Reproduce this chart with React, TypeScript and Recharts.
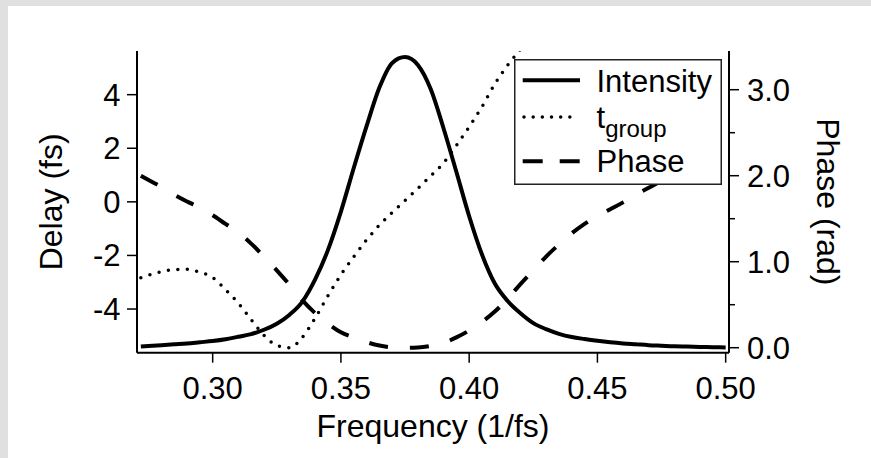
import { LineChart, Line, XAxis, YAxis, Legend } from 'recharts';

// frequency grid (1/fs)
const freq = [
  0.272, 0.275, 0.28, 0.285, 0.29, 0.295, 0.3, 0.305, 0.31, 0.315,
  0.32, 0.325, 0.33, 0.335, 0.34, 0.345, 0.35, 0.355, 0.36, 0.365,
  0.37, 0.375, 0.38, 0.385, 0.39, 0.395, 0.4, 0.405, 0.41, 0.415,
  0.42, 0.425, 0.43, 0.435, 0.44, 0.445, 0.45, 0.455, 0.46, 0.465,
  0.47, 0.475, 0.48, 0.485, 0.49, 0.495, 0.5,
];

// normalised spectral intensity
const intensity = [
  0.003, 0.005, 0.008, 0.011, 0.014, 0.018, 0.022, 0.028, 0.037, 0.046,
  0.061, 0.082, 0.113, 0.158, 0.235, 0.337, 0.468, 0.618, 0.762, 0.895,
  0.98, 1.0, 0.973, 0.89, 0.755, 0.605, 0.452, 0.32, 0.22, 0.16,
  0.118, 0.084, 0.063, 0.047, 0.036, 0.029, 0.023, 0.018, 0.014, 0.011,
  0.008, 0.006, 0.004, 0.003, 0.002, 0.001, 0.0,
];

// group delay (fs)
const tGroup = [
  -2.83, -2.74, -2.61, -2.53, -2.52, -2.63, -2.82, -3.28, -3.78, -4.4,
  -4.98, -5.36, -5.45, -5.05, -4.33, -3.5, -2.72, -2.05, -1.42, -0.87,
  -0.4, 0.05, 0.5, 0.97, 1.45, 2.1, 2.8, 3.55, 4.4, 5.1,
  5.7, 6.3, 6.8, null, null, null, null, null, null, null,
  null, null, null, null, null, null, null,
];

// spectral phase (rad)
const phase = [
  2.0, 1.95, 1.87, 1.78, 1.7, 1.63, 1.54, 1.44, 1.34, 1.21,
  1.06, 0.9, 0.73, 0.55, 0.4, 0.28, 0.18, 0.12, 0.065, 0.025,
  0.005, 0.0, 0.003, 0.02, 0.055, 0.12, 0.2, 0.3, 0.42, 0.57,
  0.74, 0.9, 1.06, 1.2, 1.33, 1.44, 1.53, 1.61, 1.69, 1.78,
  1.86, 1.94, 2.02, null, null, null, null,
];

const freqTicks = [0.3, 0.35, 0.4, 0.45, 0.5];
const delayTicks = [-4, -2, 0, 2, 4];
const phaseTicks = [0, 0.5, 1, 1.5, 2, 2.5, 3];

const data = freq.map((f, i) => ({
  f,
  intensity: intensity[i],
  tGroup: tGroup[i],
  phase: phase[i],
}));

const FONT = '"Liberation Sans", Arial, Helvetica, sans-serif';
const xDomain = [0.2705, 0.5013];

const PhaseTick = (props: any) => {
  const { x, y, payload } = props;
  const major = Number.isInteger(payload.value);
  const ax = x - 18;
  return (
    <g>
      <line x1={ax} y1={y} x2={ax + (major ? 10 : 6)} y2={y} stroke="#000" strokeWidth={1.5} />
      {major && (
        <text x={x} y={y} dy={11} fontSize={31} fill="#000" fontFamily={FONT}>
          {payload.value.toFixed(1)}
        </text>
      )}
    </g>
  );
};

const FreqLabel = (props: any) => {
  const vb = props.viewBox;
  return (
    <text x={vb.x + vb.width / 2} y={vb.y + 84} textAnchor="middle" fontSize={32} fill="#000" fontFamily={FONT}>
      Frequency (1/fs)
    </text>
  );
};

const DelayLabel = (props: any) => {
  const vb = props.viewBox;
  const x = vb.x + 45;
  const y = vb.y + vb.height / 2;
  return (
    <text x={x} y={y} transform={`rotate(-90 ${x} ${y})`} textAnchor="middle" fontSize={32} fill="#000" fontFamily={FONT}>
      Delay (fs)
    </text>
  );
};

const PhaseLabel = (props: any) => {
  const vb = props.viewBox;
  const x = vb.x + 88;
  const y = vb.y + vb.height / 2;
  return (
    <text x={x} y={y} transform={`rotate(90 ${x} ${y})`} textAnchor="middle" fontSize={32} fill="#000" fontFamily={FONT}>
      Phase (rad)
    </text>
  );
};

const LegendBox = () => (
  <svg width={208} height={126} style={{ display: 'block' }}>
    <rect x={0.75} y={0.75} width={206.5} height={124.5} fill="#fff" stroke="#222" strokeWidth={1.5} />
    <line x1={8.7} x2={66} y1={21.3} y2={21.3} stroke="#000" strokeWidth={4} />
    <line x1={10} x2={65} y1={58} y2={58} stroke="#000" strokeWidth={3.5} strokeDasharray="0 9.17" strokeLinecap="round" />
    <line x1={8.7} x2={66} y1={102.3} y2={102.3} stroke="#000" strokeWidth={4} strokeDasharray="20 17" />
    <g fontFamily={FONT} fill="#000" fontSize={31}>
      <text x={82.5} y={32.8}>Intensity</text>
      <text x={82.5} y={68.8}>
        t<tspan fontSize={24} dy={9.5}>group</tspan>
      </text>
      <text x={82.5} y={112.8}>Phase</text>
    </g>
  </svg>
);

export default function App() {
  return (
    <div style={{ position: 'fixed', inset: 0, background: '#e0e0e0' }}>
      <div style={{ position: 'absolute', left: 8, top: 6, width: 863, height: 452, background: '#fff', fontFamily: FONT }}>
        <LineChart width={863} height={452} data={data} margin={{ top: 45, right: 12, left: 9, bottom: 5 }}>
          <XAxis
            dataKey="f"
            type="number"
            domain={xDomain}
            allowDataOverflow
            ticks={freqTicks}
            interval={0}
            tickFormatter={(v: number) => v.toFixed(2)}
            height={100.3}
            tickSize={10}
            tickMargin={14}
            axisLine={{ stroke: '#000', strokeWidth: 2 }}
            tickLine={{ stroke: '#000', strokeWidth: 1.5 }}
            tick={{ fill: '#000', fontSize: 31 }}
            label={{ content: FreqLabel }}
          />
          <XAxis
            xAxisId="top"
            orientation="top"
            type="number"
            domain={xDomain}
            allowDataOverflow
            height={0}
            tick={false}
            tickLine={false}
            axisLine={{ stroke: '#000', strokeWidth: 2 }}
          />
          <YAxis
            yAxisId="left"
            orientation="left"
            width={120}
            domain={[-5.63, 5.63]}
            allowDataOverflow
            ticks={delayTicks}
            interval={0}
            tickSize={10}
            tickMargin={6.4}
            axisLine={{ stroke: '#000', strokeWidth: 2 }}
            tickLine={{ stroke: '#000', strokeWidth: 1.5 }}
            tick={{ fill: '#000', fontSize: 31 }}
            label={{ content: DelayLabel }}
          />
          <YAxis
            yAxisId="right"
            orientation="right"
            width={130}
            domain={[-0.058, 3.45]}
            allowDataOverflow
            ticks={phaseTicks}
            interval={0}
            tickSize={10}
            tickMargin={8}
            tickLine={false}
            axisLine={{ stroke: '#000', strokeWidth: 2 }}
            tick={PhaseTick}
            label={{ content: PhaseLabel }}
          />
          <YAxis yAxisId="int" orientation="right" hide width={0} domain={[-0.018, 1.021]} allowDataOverflow />
          <Legend
            content={() => <LegendBox />}
            layout="vertical"
            align="center"
            verticalAlign="middle"
            wrapperStyle={{ left: 506, top: 52.7, width: 208, height: 126 }}
          />
          <Line
            yAxisId="right"
            dataKey="phase"
            type="monotone"
            stroke="#000"
            strokeWidth={4}
            strokeDasharray="19 22"
            dot={false}
            activeDot={false}
            isAnimationActive={false}
          />
          <Line
            yAxisId="left"
            dataKey="tGroup"
            type="monotone"
            stroke="#000"
            strokeWidth={3.5}
            strokeDasharray="0 9.5"
            strokeLinecap="round"
            dot={false}
            activeDot={false}
            isAnimationActive={false}
          />
          <Line
            yAxisId="int"
            dataKey="intensity"
            type="monotone"
            stroke="#000"
            strokeWidth={4}
            dot={false}
            activeDot={false}
            isAnimationActive={false}
          />
        </LineChart>
      </div>
    </div>
  );
}
